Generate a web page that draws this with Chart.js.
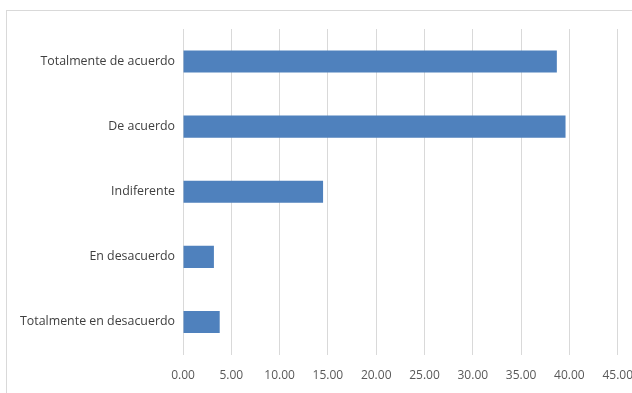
<!DOCTYPE html>
<html>
<head>
<meta charset="utf-8">
<script src="https://cdn.jsdelivr.net/npm/chart.js@4/dist/chart.umd.min.js"></script>
<style>
  html, body { margin: 0; padding: 0; background: #ffffff; }
  #wrap { position: relative; width: 632px; height: 393px; overflow: hidden; }
  #frame { position: absolute; left: 6px; top: 10px; width: 700px; height: 500px;
           border-left: 1px solid #d9d9d9; border-top: 1px solid #d9d9d9; box-sizing: border-box; }
  #c { position: absolute; left: 0; top: 0; }
</style>
</head>
<body>
<div id="wrap">
  <div id="frame"></div>
  <canvas id="c" width="647" height="393"></canvas>
</div>
<script>
const categories = [
  "Totalmente de acuerdo",
  "De acuerdo",
  "Indiferente",
  "En desacuerdo",
  "Totalmente en desacuerdo"
];
const values = [38.7, 39.6, 14.5, 3.2, 3.8];
const xTickMin = 0;
const xTickMax = 45;
const xTickStep = 5;

const FONT = "'Open Sans', sans-serif";

new Chart(document.getElementById('c'), {
  type: 'bar',
  data: {
    labels: categories,
    datasets: [{
      data: values,
      backgroundColor: '#4F81BD',
      borderWidth: 0,
      barPercentage: 0.68,
      categoryPercentage: 0.5
    }]
  },
  options: {
    indexAxis: 'y',
    responsive: false,
    animation: false,
    devicePixelRatio: 1,
    layout: { padding: { top: 29, right: 0, bottom: 0, left: 0 } },
    plugins: { legend: { display: false }, tooltip: { enabled: false } },
    scales: {
      x: {
        min: xTickMin,
        max: xTickMax,
        ticks: {
          stepSize: xTickStep,
          color: '#595959',
          font: { family: FONT, size: 12 },
          padding: 14,
          callback: (v) => Number(v).toFixed(2)
        },
        grid: { color: '#d9d9d9', lineWidth: 1, drawTicks: false },
        border: { display: false },
        afterFit: (s) => { s.height = 38.5; }
      },
      y: {
        ticks: {
          color: '#404040',
          font: { family: FONT, size: 12.4 },
          padding: 8
        },
        grid: { display: false, drawTicks: false },
        border: { display: false },
        afterFit: (s) => { s.width = 183; }
      }
    }
  }
});
</script>
</body>
</html>
